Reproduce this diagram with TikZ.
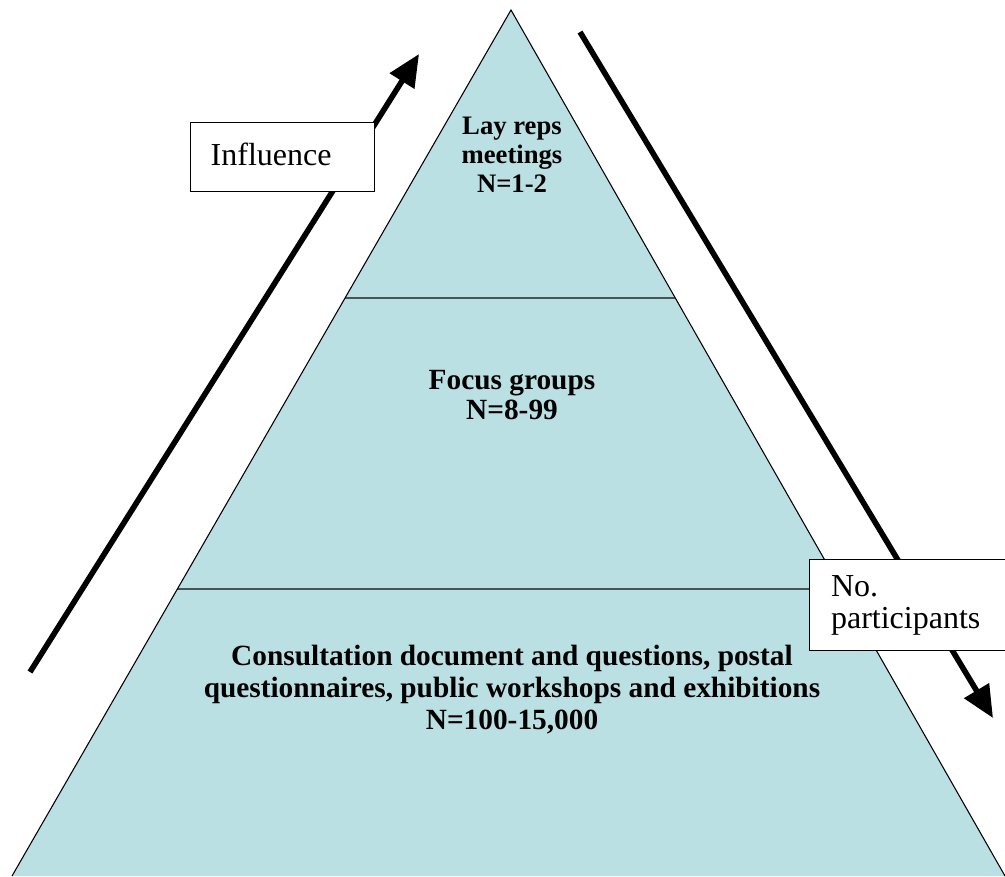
\documentclass[tikz,border=0pt]{standalone}
\usepackage{fontspec}
\setmainfont{Liberation Serif}
\usetikzlibrary{arrows.meta,calc}
\definecolor{tier}{RGB}{187,224,227}
\definecolor{rule}{RGB}{70,84,86}
\tikzset{
  tierline/.style={draw=rule,line width=2pt},
  bigarrow/.style={line width=4.2pt,-{Triangle[length=24pt,width=21pt]}},
  tiertext/.style={align=center},
  labelbox/.style={draw,fill=white,line width=1.1pt,align=left,
    font=\fontsize{24}{24}\selectfont,anchor=north west,inner ysep=0pt}
}
\begin{document}
\begin{tikzpicture}[x=0.75pt,y=-0.75pt]
  \useasboundingbox (0,0) rectangle (1005,876);
  \clip (0,0) rectangle (1005,876);
  % pyramid corners
  \coordinate (apex) at (511,10);
  \coordinate (bl) at (12,876);
  \coordinate (br) at (1005,876);
  % tier boundaries on the sides
  \coordinate (d1l) at ($(apex)!0.3326!(bl)$);
  \coordinate (d1r) at ($(apex)!0.3326!(br)$);
  \coordinate (d2l) at ($(apex)!0.6686!(bl)$);
  \coordinate (d2r) at ($(apex)!0.6686!(br)$);
  \fill[tier] (apex) -- (bl) -- (br) -- cycle;
  \draw[tierline] (d1l) -- (d1r);
  \draw[tierline] (d2l) -- (d2r);
  \draw[line width=0.8pt] (bl) -- (apex) -- (br);

  % direction arrows
  \coordinate (infl0) at (30,672);
  \coordinate (infl1) at (419,54);
  \coordinate (part0) at (580,32);
  \coordinate (part1) at (993,718);
  \draw[bigarrow] (infl0) -- (infl1);
  \draw[bigarrow] (part0) -- (part1);

  % tier labels
  \node[tiertext,font=\bfseries\fontsize{20}{21.8}\selectfont] (top) at (512,155)
    {Lay reps\\meetings\\N=1-2};
  \node[tiertext,font=\bfseries\fontsize{22}{23}\selectfont] (mid) at (512,395)
    {Focus groups\\N=8-99};
  \node[tiertext,font=\bfseries\fontsize{22}{24}\selectfont] (base) at (512,690)
    {Consultation document and questions, postal\\questionnaires, public workshops and exhibitions\\N=100-15,000};

  % side boxes
  \node[labelbox,minimum width=138pt,minimum height=51.75pt,text width=108pt,inner xsep=15pt,
    text depth=4pt] (influence) at (190,122) {Influence};
  \node[labelbox,minimum width=165pt,minimum height=68.25pt,text width=133pt,inner xsep=16pt]
    (participants) at (809,559) {No.\\participants};
\end{tikzpicture}
\end{document}
